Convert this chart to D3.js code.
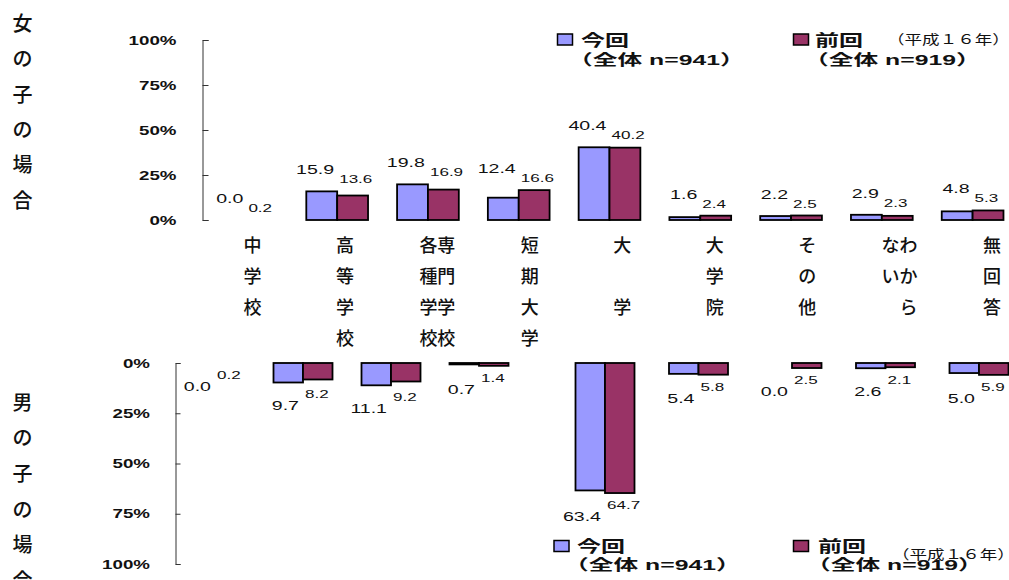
<!DOCTYPE html>
<html><head><meta charset="utf-8">
<script src="https://cdn.jsdelivr.net/npm/d3@7"></script>
<style>
body{margin:0;background:#fff;}
svg{display:block;}
.num{font-family:"Liberation Sans",Arial,sans-serif;fill:#111;}
.cjk{font-family:"Noto Sans CJK JP",sans-serif;fill:#111;}
.mix{font-family:"Liberation Sans","Noto Sans CJK JP",sans-serif;fill:#111;}
</style></head><body>
<svg id="c" width="1009" height="580"></svg>
<script>
// ---- data ----
const categories = ["中学校","高等学校","専門学校・各種学校","短期大学","大学","大学院","その他","わからない","無回答"];
const catLabelRows = [["中","学","校"],["高","等","学","校"],["各専","種門","学学","校校"],["短","期","大","学"],["大","","学"],["大","学","院"],["そ","の","他"],["なわ","いか","　ら"],["無","回","答"]];
const seriesNames = ["今回","前回"];
const seriesSub = ["（全体 n=941）","（全体 n=919）"];
const seriesNote = "（平成１６年）";
const girlsNow  = [0.0,15.9,19.8,12.4,40.4,1.6,2.2,2.9,4.8];
const girlsPrev = [0.2,13.6,16.9,16.6,40.2,2.4,2.5,2.3,5.3];
const boysNow   = [0.0,9.7,11.1,0.7,63.4,5.4,0.0,2.6,5.0];
const boysPrev  = [0.2,8.2,9.2,1.4,64.7,5.8,2.5,2.1,5.9];
const tickValues = [0,25,50,75,100];
const sideTitleTop = ["女","の","子","の","場","合"];
const sideTitleBottom = ["男","の","子","の","場","合"];
const colors = ["#9999FF","#993366"];

const svg = d3.select("#c");
function sText(parent, x, y, str, o){
  return parent.append("text").attr("class", o.cls||"num")
    .attr("transform", `translate(${x},${y}) scale(${o.sx||1},1)`)
    .attr("text-anchor", o.anchor||"start")
    .attr("dominant-baseline", o.db||null)
    .style("font-size", o.size+"px").style("font-weight", o.weight||400)
    .text(str);
}

// ---- scales ----
const yT = d3.scaleLinear().domain([0,100]).range([220,40]);
const yB = d3.scaleLinear().domain([0,100]).range([363,564]);
const x0T = d3.scaleBand().domain(categories).range([201,1018]).paddingInner(0.32).paddingOuter(0.16);
const x1T = d3.scaleBand().domain(seriesNames).range([0,x0T.bandwidth()]);
const xB = d3.scaleLinear().domain([0,3,4,8]).range([215,479,605,979]);
const x1B = d3.scaleBand().domain(seriesNames).range([-29.5,29.5]);
const xLab = d3.scalePoint().domain(categories).range([252.5,992]);

// ---- axes ----
function styleAxis(g){
  g.attr("font-family",null).attr("font-size",null);
  g.select(".domain").attr("stroke","#333");
  g.selectAll(".tick line").attr("stroke","#333");
  g.selectAll(".tick text").each(function(){
    const t=d3.select(this); const x=+t.attr("x");
    t.attr("x",0).attr("transform",`translate(${x},0) scale(1.5,1)`);
  }).attr("class","num").style("font-size","12.5px").style("font-weight","700").attr("fill","#111");
}
svg.append("g").attr("transform","translate(202.5,0)")
  .call(d3.axisLeft(yT).tickValues(tickValues).tickSizeInner(-6).tickSizeOuter(-6).tickPadding(26).tickFormat(d=>d+"%"))
  .call(styleAxis);
svg.append("g").attr("transform","translate(175.5,0)")
  .call(d3.axisLeft(yB).tickValues(tickValues).tickSizeInner(-5).tickSizeOuter(-5).tickPadding(25.5).tickFormat(d=>d+"%"))
  .call(styleAxis);

// ---- bars top ----
const topG = svg.append("g");
categories.forEach((c,i)=>{
  const vals=[girlsNow[i],girlsPrev[i]];
  const cx = x0T(c)+x0T.bandwidth()/2;
  vals.forEach((v,s)=>{
    const h = yT(0)-yT(v);
    if(Math.round(h)<1) return;
    topG.append("rect").attr("x",x0T(c)+x1T(seriesNames[s])).attr("y",yT(v))
      .attr("width",x1T.bandwidth()).attr("height",h)
      .attr("fill",colors[s]).attr("stroke","#000").attr("stroke-width",1.8);
  });
  const base = yT(Math.max(vals[0],vals[1])) - 17;
  sText(topG, cx-3, base, vals[0].toFixed(1), {size:13.5, sx:1.45, anchor:"end"});
  sText(topG, cx+2, base+9, vals[1].toFixed(1), {size:11, sx:1.55, anchor:"start"});
});

// ---- bars bottom ----
const botG = svg.append("g");
categories.forEach((c,i)=>{
  const vals=[boysNow[i],boysPrev[i]];
  const cx = xB(i);
  vals.forEach((v,s)=>{
    const h = yB(v)-yB(0);
    if(Math.round(h)<1) return;
    botG.append("rect").attr("x",cx+x1B(seriesNames[s])).attr("y",yB(0))
      .attr("width",x1B.bandwidth()).attr("height",h)
      .attr("fill",colors[s]).attr("stroke","#000").attr("stroke-width",1.8);
  });
  const base = yB(Math.max(vals[0],vals[1])) + 28;
  sText(botG, cx-4, base, vals[0].toFixed(1), {size:13.5, sx:1.45, anchor:"end"});
  sText(botG, cx+2, base-12, vals[1].toFixed(1), {size:11, sx:1.55, anchor:"start"});
});

// ---- category labels ----
categories.forEach((c,i)=>{
  catLabelRows[i].forEach((row,r)=>{
    if(!row) return;
    svg.append("text").attr("class","cjk").attr("x",xLab(c)).attr("y",243.5+r*31)
      .attr("text-anchor","middle").attr("dominant-baseline","central")
      .style("font-size","18px").style("font-weight",500).text(row);
  });
});

// ---- side titles ----
sideTitleTop.forEach((ch,i)=>{
  svg.append("text").attr("class","cjk").attr("x",22.5).attr("y",22.5+i*35.3)
    .attr("text-anchor","middle").attr("dominant-baseline","central").style("font-size","20px").style("font-weight",500).text(ch);
});
sideTitleBottom.forEach((ch,i)=>{
  svg.append("text").attr("class","cjk").attr("x",22.5).attr("y",401+i*35.7)
    .attr("text-anchor","middle").attr("dominant-baseline","central").style("font-size","20px").style("font-weight",500).text(ch);
});

// ---- legends ----
function legend(sq, ty, subY, noteY, noteX, xs, subXs, sqXs){
  const g = svg.append("g");
  seriesNames.forEach((n,s)=>{
    g.append("rect").attr("x",sqXs[s]).attr("y",sq).attr("width",15).attr("height",11)
      .attr("fill",colors[s]).attr("stroke","#000").attr("stroke-width",1.5);
    sText(g, xs[s], ty, n, {cls:"cjk", size:16, sx:1.5, weight:700});
    sText(g, subXs[s], subY, seriesSub[s], {cls:"mix", size:15, sx:1.65, weight:700});
  });
  sText(g, noteX, noteY, seriesNote, {cls:"cjk", size:13, sx:1.35, weight:400});
}
legend(34, 45.5, 65, 44, 887, [581,815], [568,804], [557.5,793.5]);
legend(540.5, 551.5, 570, 559, 892, [577,818], [564,806], [554,793.5]);
</script>
</body></html>
